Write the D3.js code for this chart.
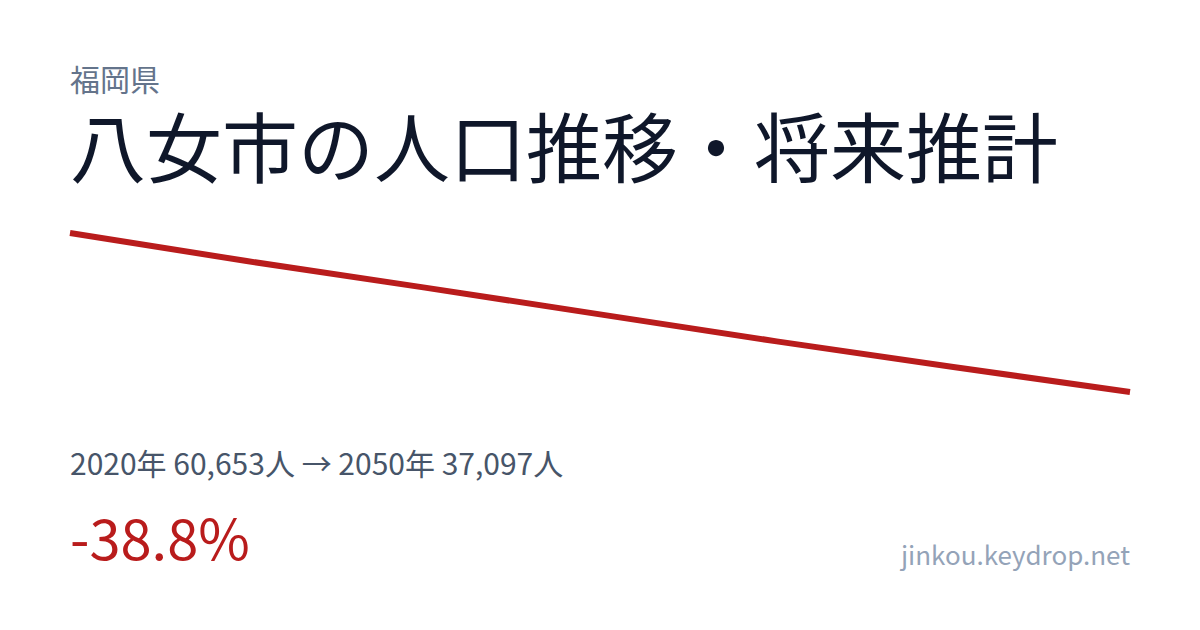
<!DOCTYPE html>
<html>
<head>
<meta charset="utf-8">
<script src="https://cdn.jsdelivr.net/npm/d3@7"></script>
<style>
  html, body { margin: 0; padding: 0; background: #fff; }
  text { font-family: "Noto Sans CJK JP", "Noto Sans", sans-serif; }
</style>
</head>
<body>
<svg id="card"></svg>
<script>
// data
const prefecture = "福岡県";
const city = "八女市";
const years = [2020, 2025, 2030, 2035, 2040, 2045, 2050];
const population = [60653, 56500, 52600, 48600, 44600, 40800, 37097];
const site = "jinkou.keydrop.net";

const W = 1200, H = 630;
const svg = d3.select("#card")
    .attr("width", W)
    .attr("height", H);

svg.append("rect")
    .attr("width", W)
    .attr("height", H)
    .attr("fill", "#ffffff");

// header
svg.append("text")
    .attr("x", 70)
    .attr("y", 91)
    .attr("font-size", 30)
    .attr("fill", "#64748b")
    .text(prefecture);

svg.append("text")
    .attr("x", 70)
    .attr("y", 177)
    .attr("font-size", 76)
    .attr("fill", "#0f172a")
    .text(`${city}の人口推移・将来推計`);

// line
const x = d3.scaleLinear()
    .domain(d3.extent(years))
    .range([70, 1130]);

const y = d3.scaleLinear()
    .domain(d3.extent(population))
    .range([392, 233]);

const line = d3.line()
    .x((d, i) => x(years[i]))
    .y(d => y(d));

svg.append("path")
    .datum(population)
    .attr("d", line)
    .attr("fill", "none")
    .attr("stroke", "#b91c1c")
    .attr("stroke-width", 6)
    .attr("stroke-linejoin", "round");

// summary
const first = population[0], last = population[population.length - 1];
const change = (last - first) / first * 100;
const fmt = d3.format(",");

svg.append("text")
    .attr("x", 70)
    .attr("y", 475)
    .attr("font-size", 30)
    .attr("fill", "#475569")
    .text(`${years[0]}年 ${fmt(first)}人 → ${years[years.length - 1]}年 ${fmt(last)}人`);

svg.append("text")
    .attr("x", 70)
    .attr("y", 560)
    .attr("font-size", 56)
    .attr("fill", "#b91c1c")
    .text(`${change.toFixed(1)}%`);

svg.append("text")
    .attr("x", 1130)
    .attr("y", 565)
    .attr("font-size", 26)
    .attr("text-anchor", "end")
    .attr("fill", "#94a3b8")
    .text(site);
</script>
</body>
</html>
